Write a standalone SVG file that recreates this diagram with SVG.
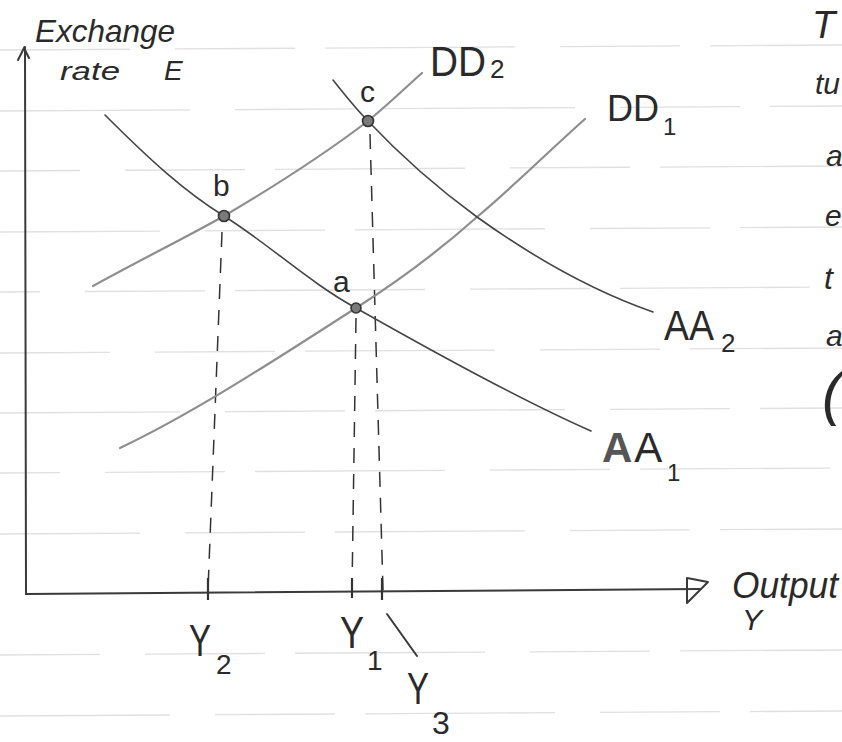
<svg xmlns="http://www.w3.org/2000/svg" width="842" height="742" viewBox="0 0 842 742">
<style>
.rule{stroke:#e0e0e0;stroke-width:1.3;fill:none;stroke-dasharray:190 45 120 30}
.axis{stroke:#3a3a3a;stroke-width:2;fill:none;stroke-linecap:round}
.aa{stroke:#454545;stroke-width:1.6;fill:none;stroke-linecap:round}
.dd{stroke:#8e8e8e;stroke-width:2.2;fill:none;stroke-linecap:round}
.dash{stroke:#333;stroke-width:1.5;fill:none;stroke-dasharray:15 11}
.tick{stroke:#333;stroke-width:2.2;fill:none}
.pt{fill:#7a7a7a;stroke:#333;stroke-width:1.6}
text{font-family:"Liberation Sans","DejaVu Sans",sans-serif;fill:#2a2a2a}
.hand{font-style:italic}
</style>
<rect width="842" height="742" fill="#ffffff"/>
<g id="ruled-lines">
<line class="rule" x1="0" y1="50" x2="842" y2="45" stroke-dashoffset="60"/>
<line class="rule" x1="0" y1="111" x2="842" y2="106" stroke-dashoffset="0"/>
<line class="rule" x1="0" y1="171" x2="842" y2="166" stroke-dashoffset="110"/>
<line class="rule" x1="0" y1="232" x2="842" y2="227" stroke-dashoffset="30"/>
<line class="rule" x1="0" y1="292" x2="842" y2="287" stroke-dashoffset="150"/>
<line class="rule" x1="0" y1="353" x2="842" y2="348" stroke-dashoffset="80"/>
<line class="rule" x1="0" y1="413" x2="842" y2="408" stroke-dashoffset="10"/>
<line class="rule" x1="0" y1="473" x2="842" y2="468" stroke-dashoffset="130"/>
<line class="rule" x1="0" y1="534" x2="842" y2="529" stroke-dashoffset="50"/>
<line class="rule" x1="0" y1="655" x2="842" y2="650" stroke-dashoffset="90"/>
<line class="rule" x1="0" y1="716" x2="842" y2="711" stroke-dashoffset="20"/>
</g>
<g id="axes">
<path class="axis" d="M25,47 L26,594"/>
<path class="axis" d="M18,60 L24,48 L29,58"/>
<path class="axis" d="M26,594 L700,589"/>
<path class="axis" d="M687,578 L708,582 L687,603 Z" stroke-linejoin="round"/>
</g>
<g id="connectors">
<path class="dash" d="M222,232 L208,590"/>
<path class="dash" d="M356,318 L352,590"/>
<path class="dash" d="M370,134 L383,590"/>
<path class="tick" d="M208,578 L208,600 M352,578 L352,598 M382,578 L382,600"/>
<path class="axis" d="M387,614 L417,656" stroke-width="1.8"/>
</g>
<g id="DD2">
<path class="dd" d="M93,286 C140,260 185,238 224,216 C280,183 330,150 368,121 C390,103 405,88 422,73"/>
<text x="430" y="76" font-size="42" textLength="56" lengthAdjust="spacingAndGlyphs">DD</text>
<text x="490" y="78" font-size="26">2</text>
</g>
<g id="DD1">
<path class="dd" d="M120,448 C200,410 290,350 356,308 C400,280 440,250 477,217 C515,185 550,150 585,119"/>
<text x="607" y="121" font-size="36">DD</text>
<text x="663" y="135" font-size="24">1</text>
</g>
<g id="AA2">
<path class="aa" d="M333,80 C345,95 355,108 368,121 C400,155 440,190 477,217 C530,255 590,290 653,312"/>
<text x="664" y="340" font-size="42" textLength="50" lengthAdjust="spacingAndGlyphs">AA</text>
<text x="721" y="352" font-size="26">2</text>
</g>
<g id="AA1">
<path class="aa" d="M105,115 C150,160 185,192 224,216 C270,245 310,283 356,308 C430,350 520,400 591,431"/>
<text x="602" y="462" font-size="42"><tspan font-weight="bold" fill="#555">A</tspan><tspan dx="2">A</tspan></text>
<text x="667" y="481" font-size="24">1</text>
</g>
<g id="point-c">
<circle class="pt" cx="368" cy="121" r="5.5"/>
<text x="360" y="102" font-size="30">c</text>
</g>
<g id="point-b">
<circle class="pt" cx="224" cy="216" r="5.5"/>
<text x="213" y="196" font-size="30">b</text>
</g>
<g id="point-a">
<circle class="pt" cx="356" cy="308" r="5"/>
<text x="333" y="292" font-size="30">a</text>
</g>
<g id="y-axis-label">
<text class="hand" x="35" y="42" font-size="32" textLength="140" lengthAdjust="spacingAndGlyphs">Exchange</text>
<text class="hand" x="60" y="80" font-size="26" textLength="60" lengthAdjust="spacingAndGlyphs">rate</text>
<text class="hand" x="164" y="80" font-size="28">E</text>
</g>
<g id="x-axis-label">
<text class="hand" x="732" y="598" font-size="36" textLength="106" lengthAdjust="spacingAndGlyphs">Output</text>
<text class="hand" x="742" y="630" font-size="30">Y</text>
</g>
<g id="Y2">
<text x="189" y="656" font-size="44" textLength="22" lengthAdjust="spacingAndGlyphs">Y</text>
<text x="216" y="674" font-size="28">2</text>
</g>
<g id="Y1">
<text x="340" y="648" font-size="44" textLength="24" lengthAdjust="spacingAndGlyphs">Y</text>
<text x="367" y="670" font-size="28">1</text>
</g>
<g id="Y3">
<text x="407" y="704" font-size="44" textLength="22" lengthAdjust="spacingAndGlyphs">Y</text>
<text x="432" y="734" font-size="32">3</text>
</g>
<g id="margin-text">
<text class="hand" x="812" y="38" font-size="38">T</text>
<text class="hand" x="815" y="94" font-size="30">tu</text>
<text class="hand" x="826" y="166" font-size="30">a</text>
<text class="hand" x="825" y="226" font-size="30">e</text>
<text class="hand" x="824" y="289" font-size="32">t</text>
<text class="hand" x="826" y="346" font-size="30">a</text>
<text class="hand" x="822" y="414" font-size="60" font-weight="300">(</text>
</g>
</svg>
